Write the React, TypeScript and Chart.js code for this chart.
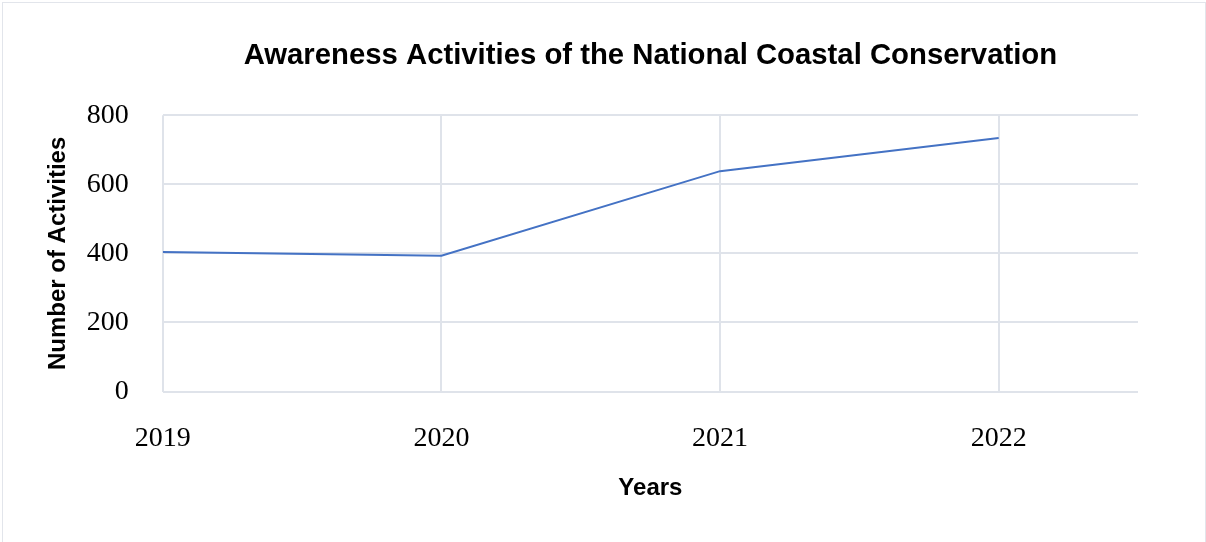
import React, { useEffect, useRef } from "react";
import { Chart, registerables } from "chart.js";

Chart.register(...registerables);

const years = [2019, 2020, 2021, 2022];
const activities = [404, 393, 638, 734];
const yTicks = [0, 200, 400, 600, 800];
const chartTitle = "Awareness Activities of the National Coastal Conservation";
const xTitle = "Years";
const yTitle = "Number of Activities";

export default function App() {
  const ref = useRef<HTMLCanvasElement | null>(null);

  useEffect(() => {
    document.body.style.margin = "0";
    const canvas = ref.current;
    if (!canvas) return;
    const gridColor = "#dfe3ea";
    const chart = new Chart(canvas, {
      type: "line",
      data: {
        datasets: [
          {
            data: years.map((y, i) => ({ x: y, y: activities[i] })),
            borderColor: "#4472C4",
            borderWidth: 2,
            pointRadius: 0,
            tension: 0,
            fill: false,
          },
        ],
      },
      options: {
        animation: false,
        responsive: false,
        layout: { padding: { left: 41, right: 67, top: 35, bottom: 40 } },
        plugins: {
          legend: { display: false },
          tooltip: { enabled: false },
          title: {
            display: true,
            text: chartTitle,
            fullSize: false,
            color: "#000",
            font: { family: "Liberation Sans", size: 29.3, weight: "bold" },
            padding: { top: 0, bottom: 42 },
          },
        },
        scales: {
          x: {
            type: "linear",
            min: years[0],
            max: years[years.length - 1] + 0.5,
            afterBuildTicks: (axis: any) => {
              axis.ticks = [...years.map((v) => ({ value: v })), { value: years[years.length - 1] + 0.5 }];
            },
            grid: {
              color: (ctx: any) => (ctx.tick && Number.isInteger(ctx.tick.value) ? gridColor : "rgba(0,0,0,0)"),
              lineWidth: 2,
              drawTicks: false,
            },
            border: { display: false },
            ticks: {
              padding: 30,
              color: "#000",
              maxRotation: 0,
              font: { family: "Liberation Serif", size: 28 },
              callback: (v: any) => (Number.isInteger(v) ? String(v) : ""),
            },
            title: {
              display: true,
              text: xTitle,
              color: "#000",
              font: { family: "Liberation Sans", size: 24, weight: "bold" },
              padding: { top: -11, bottom: 0 },
            },
          },
          y: {
            min: 0,
            max: 800,
            afterBuildTicks: (axis: any) => {
              axis.ticks = yTicks.map((v) => ({ value: v }));
            },
            grid: { color: gridColor, lineWidth: 2, drawTicks: false },
            border: { display: false },
            ticks: {
              padding: 34,
              color: "#000",
              font: { family: "Liberation Serif", size: 28 },
              callback: (v: any) => String(v),
            },
            title: {
              display: true,
              text: yTitle,
              color: "#000",
              font: { family: "Liberation Sans", size: 24, weight: "bold" },
              padding: { top: 0, bottom: -20 },
            },
          },
        },
      },
    });
    return () => chart.destroy();
  }, []);

  return (
    <div
      style={{
        position: "absolute",
        left: 2,
        top: 2,
        width: 1202,
        height: 560,
        border: "1px solid #e2e5eb",
        background: "#fff",
      }}
    >
      <canvas ref={ref} width={1202} height={540} style={{ display: "block" }} />
    </div>
  );
}
